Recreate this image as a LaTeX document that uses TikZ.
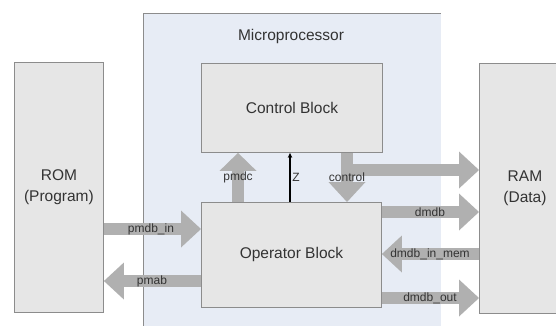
\documentclass[tikz,border=0pt]{standalone}
\usepackage{fontspec}
\setmainfont{Liberation Sans}
\usetikzlibrary{arrows.meta}
\definecolor{busgray}{HTML}{B0B0B0}
\definecolor{blockfill}{HTML}{E6E6E6}
\definecolor{blockline}{HTML}{8C8C8C}
\definecolor{mpfill}{HTML}{E7ECF5}
\definecolor{inktext}{HTML}{333333}
\tikzset{
  block/.style={draw=blockline, line width=0.9pt, fill=blockfill, anchor=north west,
    text=inktext, align=center, inner sep=0pt,
    font=\fontsize{15.5}{21}\selectfont},
  bus/.style={draw=busgray, line width=12pt,
    -{Triangle[length=20pt,width=37pt,line width=0pt]}},
  buslabel/.style={text=inktext, inner sep=0pt, font=\fontsize{12}{14}\selectfont},
  title/.style={text=inktext, inner sep=0pt, font=\fontsize{15.5}{18}\selectfont}
}
\begin{document}
\begin{tikzpicture}[x=1pt,y=-1pt]
\useasboundingbox (0,0) rectangle (556,325);
\fill[white] (0,0) rectangle (556,325);

% processor frame
\node[fill=mpfill, anchor=north west, inner sep=0pt,
      minimum width=298pt, minimum height=330pt] (mp) at (143,13) {};
\draw[blockline, line width=0.9pt] (mp.south west) -- (mp.north west) -- (mp.north east);
\node[title] (mptitle) at (291,36) {Microprocessor};

% memories
\node[block, minimum width=89pt, minimum height=250pt] (rom) at (14,62) {ROM\\(Program)};
\node[block, minimum width=91pt, minimum height=250pt] (ram) at (479,63) {RAM\\(Data)};

% processor blocks
\node[block, minimum width=181pt, minimum height=89pt] (ctrl) at (201,63) {Control Block};
\node[block, minimum width=180pt, minimum height=105pt] (op) at (201,202) {Operator Block};

% bus levels and columns
\coordinate (yPin) at (0,229);
\coordinate (yPab) at (0,281);
\coordinate (yDmdb) at (0,212);
\coordinate (yDin) at (0,254);
\coordinate (yDout) at (0,298);
\coordinate (yCtl) at (0,170);
\coordinate (xPmdc) at (238,0);
\coordinate (xZ) at (290,0);
\coordinate (xCtl) at (347,0);
\coordinate (ctlStart) at (341,170);

% program memory buses
\draw[bus] (rom.east |- yPin) -- (op.west |- yPin);
\draw[bus] (op.west |- yPab) -- (rom.east |- yPab);

% data memory buses
\draw[bus] (op.east |- yDmdb) -- (ram.west |- yDmdb);
\draw[bus] (ram.west |- yDin) -- (op.east |- yDin);
\draw[bus] (op.east |- yDout) -- (ram.west |- yDout);

% control paths
\draw[bus, -{Triangle[length=18pt,width=37pt,line width=0pt]}] (op.north -| xPmdc) -- (ctrl.south -| xPmdc);
\draw[bus] (ctrl.south -| xCtl) -- (op.north -| xCtl);
\draw[bus] (ctlStart) -- (ram.west |- yCtl);
\draw[line width=1.2pt, -{Stealth[length=5pt,width=4.5pt]}] (op.north -| xZ) -- (ctrl.south -| xZ);

% bus labels
\node[buslabel] (lPin) at (151,229) {pmdb\_in};
\node[buslabel] (lPab) at (152,281) {pmab};
\node[buslabel] (lPmdc) at (238,177) {pmdc};
\node[buslabel] (lZ) at (296,177) {Z};
\node[buslabel] (lCtl) at (347,177) {control};
\node[buslabel] (lDmdb) at (430,212) {dmdb};
\node[buslabel] (lDin) at (430,254) {dmdb\_in\_mem};
\node[buslabel] (lDout) at (430,298) {dmdb\_out};
\end{tikzpicture}
\end{document}
